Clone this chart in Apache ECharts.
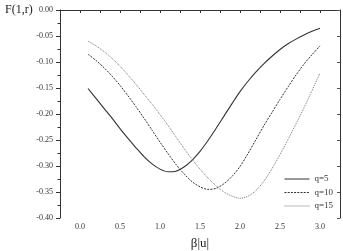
<!DOCTYPE html>
<html>
<head>
<meta charset="utf-8">
<script src="https://cdn.jsdelivr.net/npm/echarts@6/dist/echarts.min.js"></script>
<style>
  html, body { margin: 0; padding: 0; background: #fff; }
  #grafico { width: 343px; height: 251px; }
</style>
</head>
<body>
<div id="grafico"></div>
<script>
// beta|u| values
const beta = [0.1, 0.2, 0.3, 0.4, 0.5, 0.6, 0.7, 0.8, 0.9, 1.0,
  1.1, 1.2, 1.3, 1.4, 1.5, 1.6, 1.7, 1.8, 1.9, 2.0,
  2.1, 2.2, 2.3, 2.4, 2.5, 2.6, 2.7, 2.8, 2.9, 3.0]

const q5 = [-0.151, -0.170, -0.189, -0.208, -0.228, -0.247, -0.265, -0.282, -0.296, -0.306,
  -0.311, -0.310, -0.302, -0.289, -0.272, -0.251, -0.228, -0.204, -0.180, -0.157,
  -0.137, -0.119, -0.103, -0.089, -0.076, -0.065, -0.056, -0.048, -0.041, -0.035]

const q10 = [-0.085, -0.097, -0.111, -0.127, -0.145, -0.165, -0.186, -0.208, -0.231, -0.254,
  -0.276, -0.297, -0.315, -0.330, -0.340, -0.345, -0.343, -0.334, -0.320, -0.301,
  -0.276, -0.249, -0.222, -0.197, -0.172, -0.148, -0.125, -0.104, -0.086, -0.069]

const q15 = [-0.060, -0.069, -0.080, -0.093, -0.108, -0.125, -0.143, -0.162, -0.181, -0.201,
  -0.222, -0.244, -0.266, -0.287, -0.306, -0.323, -0.338, -0.350, -0.358, -0.362,
  -0.358, -0.347, -0.329, -0.305, -0.278, -0.249, -0.219, -0.188, -0.155, -0.121]

const seriesNames = ["q=5", "q=10", "q=15"]

const fuente = "'Liberation Serif', 'DejaVu Serif', serif"
const par = (ys) => beta.map((b, i) => [b, ys[i]])

const chartDom = document.getElementById("grafico")
const myChart = echarts.init(chartDom, null, { renderer: "canvas" })

const esMedio = (v) => Math.abs(v * 2 - Math.round(v * 2)) < 1e-6

const option = {
  animation: false,
  backgroundColor: "#fff",
  grid: { left: 60, top: 10, right: 3, bottom: 33, outerBoundsMode: "none", containLabel: false },
  legend: {
    orient: "vertical",
    left: 284,
    top: 174.5,
    padding: 0,
    itemWidth: 25,
    itemHeight: 8,
    itemGap: 4.5,
    itemStyle: { opacity: 0 },
    lineStyle: { width: 1 },
    textStyle: { fontFamily: fuente, fontSize: 9, color: "#333" },
    data: seriesNames
  },
  graphic: [
    {
      type: "text", left: 5, top: 4,
      style: { text: "F(1,r)", font: "12px " + fuente, fill: "#222" }
    }
  ],
  xAxis: [
    {
      type: "value", min: -0.25, max: 3.25, interval: 0.25,
      name: "β|u|", nameLocation: "middle", nameGap: 19,
      nameTextStyle: { fontFamily: fuente, fontSize: 13, color: "#222" },
      axisLine: { lineStyle: { color: "#333", width: 1 } },
      axisTick: { inside: false, length: 3, lineStyle: { color: "#333" } },
      axisLabel: {
        margin: 5, fontFamily: fuente, fontSize: 8, color: "#333",
        formatter: (v) => (v >= 0 && esMedio(v) ? v.toFixed(1) : "")
      },
      splitLine: { show: false }
    },
    {
      type: "value", position: "top", min: -0.25, max: 3.25,
      axisLine: { show: true, onZero: false, lineStyle: { color: "#333", width: 1 } },
      axisTick: { show: false }, axisLabel: { show: false }, splitLine: { show: false }
    }
  ],
  yAxis: [
    {
      type: "value", min: -0.4, max: 0, interval: 0.05,
      axisLine: { show: true, onZero: false, lineStyle: { color: "#333", width: 1 } },
      axisTick: { inside: false, length: 4, lineStyle: { color: "#333" } },
      minorTick: { show: true, splitNumber: 2, length: 2.5, lineStyle: { color: "#333" } },
      axisLabel: {
        margin: 7, fontFamily: fuente, fontSize: 8, color: "#333",
        formatter: (v) => v.toFixed(2)
      },
      splitLine: { show: false }
    },
    {
      type: "value", position: "right", min: -0.4, max: 0, interval: 0.05,
      axisLine: { show: true, onZero: false, lineStyle: { color: "#333", width: 1 } },
      axisTick: { inside: true, length: 3, lineStyle: { color: "#555" } },
      axisLabel: { show: false }, splitLine: { show: false }
    }
  ],
  series: [
    {
      name: seriesNames[0], type: "line", data: par(q5), smooth: 0.3,
      symbol: "none", lineStyle: { color: "#333", width: 1.1, type: "solid" },
      itemStyle: { color: "#333" }
    },
    {
      name: seriesNames[1], type: "line", data: par(q10), smooth: 0.3,
      symbol: "none", lineStyle: { color: "#333", width: 1, type: [2, 1.2] },
      itemStyle: { color: "#333" }
    },
    {
      name: seriesNames[2], type: "line", data: par(q15), smooth: 0.3,
      symbol: "none", lineStyle: { color: "#777", width: 1, type: [1, 1] },
      itemStyle: { color: "#777" }
    }
  ]
}

myChart.setOption(option)
</script>
</body>
</html>
